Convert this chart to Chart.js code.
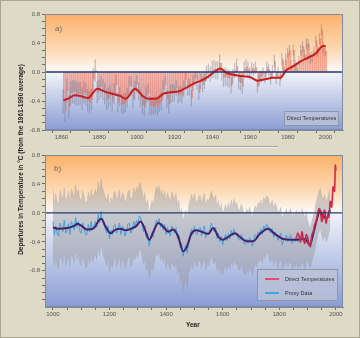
<!DOCTYPE html>
<html>
<head>
<meta charset="utf-8">
<script src="https://cdn.jsdelivr.net/npm/chart.js@4.4.0/dist/chart.umd.min.js"></script>
<style>
  body { margin: 0; background: #dedac6; font-family: "Liberation Sans", Arial, sans-serif; }
  #wrap { position: relative; width: 360px; height: 338px; background: #dedac6; overflow: hidden; }
  .frame { position: absolute; left: 0; top: 0; width: 358px; height: 336px; border: 1px solid #aaa68f; }
  .box { position: absolute; }
  .lbl { position: absolute; color: #666; font-size: 8px; }
  .ytitle { position: absolute; left: -105px; top: 156px; width: 250px; text-align: center; transform: rotate(-90deg);
            font-size: 6.5px; font-weight: bold; color: #222; white-space: nowrap; }
  .legend { position: absolute; background: rgba(190,196,214,0.75); border: 1px solid #9097a8; font-size: 5.5px; color: #333; }
  .sep { position: absolute; left: 80px; top: 146px; width: 198px; height: 1px; background: #a7a59a; border-bottom: 1px solid #f2f0e6; }
</style>
</head>
<body>
<div id="wrap">
  <div class="box" style="left:0;top:0;width:360px;height:145px"><canvas id="chart-a"></canvas></div>
  <div class="box" style="left:0;top:145px;width:360px;height:193px"><canvas id="chart-b"></canvas></div>
  <div class="sep"></div>
  <div class="lbl" style="left:55px;top:24px">a)</div>
  <div class="lbl" style="left:54px;top:164px">b)</div>
  <div class="ytitle">Departures in Temperature in °C (from the 1961-1990 average)</div>
  <div class="legend" style="left:284px;top:111px;width:53px;height:13px;line-height:13px;text-align:center">Direct Temperatures</div>
  <div class="legend" style="left:257px;top:269px;width:79px;height:30px">
    <div style="position:absolute;left:7px;top:8px;width:14px;height:2px;background:#e0506e"></div>
    <div style="position:absolute;left:27px;top:6px">Direct Temperatures</div>
    <div style="position:absolute;left:7px;top:22px;width:14px;height:2px;background:#4aa6dc"></div>
    <div style="position:absolute;left:27px;top:20px">Proxy Data</div>
  </div>
  <div style="position:absolute;left:186px;top:321px;font-size:6.5px;font-weight:bold;color:#222">Year</div>
  <div class="frame"></div>
</div>
<script>
// ─── DATA ────────────────────────────────────────────────────────────────────
// a) annual departures 1861-2000
const annualStart = 1861;
const annualVals = [
  -0.40,-0.53,-0.26,-0.48,-0.29,-0.27,-0.28,-0.30,-0.30,-0.30,
  -0.37,-0.28,-0.31,-0.39,-0.42,-0.38,-0.10, 0.02,-0.28,-0.25,
  -0.20,-0.24,-0.30,-0.38,-0.36,-0.32,-0.40,-0.30,-0.18,-0.42,
  -0.34,-0.44,-0.44,-0.42,-0.36,-0.19,-0.20,-0.37,-0.26,-0.17,
  -0.27,-0.36,-0.45,-0.49,-0.33,-0.29,-0.46,-0.47,-0.47,-0.45,
  -0.48,-0.43,-0.40,-0.24,-0.18,-0.37,-0.44,-0.30,-0.29,-0.29,
  -0.22,-0.32,-0.30,-0.32,-0.23,-0.10,-0.21,-0.21,-0.36,-0.15,
  -0.09,-0.14,-0.28,-0.13,-0.17,-0.13,-0.02, 0.01,-0.03, 0.03,
   0.04, 0.02, 0.02, 0.12, 0.00,-0.08,-0.06,-0.08,-0.09,-0.19,
  -0.06, 0.02, 0.08,-0.13,-0.15,-0.20, 0.04, 0.07, 0.04,-0.02,
   0.05, 0.03, 0.06,-0.20,-0.11,-0.06,-0.02,-0.07, 0.06, 0.03,
  -0.09, 0.01, 0.15,-0.08,-0.01,-0.11, 0.18, 0.07, 0.17, 0.26,
   0.30, 0.09, 0.30, 0.09, 0.06, 0.15, 0.30, 0.35, 0.24, 0.39,
   0.38, 0.19, 0.21, 0.28, 0.43, 0.28, 0.46, 0.58, 0.33, 0.29
];
// error half-width per decade (1860s .. 1990s)
const errDecade = [0.16, 0.15, 0.14, 0.13, 0.12, 0.12, 0.11, 0.10, 0.12, 0.10, 0.08, 0.08, 0.07, 0.07];

const smoothAYears = [1861,1864,1867,1870,1874,1879,1883,1887,1891,1894,1899,1903,1906,1910,1914,1918,1922,1926,1930,1934,
                      1938,1941,1944,1948,1952,1956,1960,1964,1968,1972,1976,1979,1983,1987,1991,1995,1998,2000];
const smoothAVals  = [-0.39,-0.36,-0.32,-0.33,-0.36,-0.23,-0.27,-0.30,-0.33,-0.37,-0.23,-0.33,-0.37,-0.37,-0.30,-0.28,-0.27,-0.22,-0.16,-0.12,
                      -0.06,0.00,0.05,-0.02,-0.04,-0.06,-0.07,-0.12,-0.10,-0.08,-0.08,0.02,0.08,0.15,0.20,0.26,0.35,0.36];

// b) proxy reconstruction, every 5 years 1000-1980
const proxyStart = 1000, proxyStep = 5;
const proxyVals = [
  -0.12,-0.30,-0.18,-0.28,-0.32,-0.14,-0.20,-0.26,-0.10,-0.28,
  -0.24,-0.15,-0.30,-0.12,-0.16,-0.24,-0.06,-0.20,-0.12,-0.25,
  -0.28,-0.14,-0.22,-0.30,-0.30,-0.16,-0.26,-0.12,-0.24,-0.18,
  -0.12,-0.20,-0.02,-0.14, 0.02,-0.10,-0.16,-0.22,-0.28,-0.18,
  -0.36,-0.24,-0.30,-0.18,-0.16,-0.28,-0.22,-0.14,-0.30,-0.18,
  -0.20,-0.32,-0.26,-0.16,-0.14,-0.28,-0.24,-0.12,-0.20,-0.10,
  -0.16,-0.04,-0.06,-0.16,-0.26,-0.18,-0.34,-0.28,-0.46,-0.36,
  -0.28,-0.34,-0.20,-0.10,-0.14,-0.08,-0.20,-0.14,-0.24,-0.16,
  -0.30,-0.20,-0.26,-0.32,-0.18,-0.24,-0.28,-0.20,-0.36,-0.30,
  -0.48,-0.42,-0.60,-0.50,-0.44,-0.56,-0.36,-0.30,-0.22,-0.30,
  -0.18,-0.28,-0.30,-0.22,-0.20,-0.32,-0.24,-0.18,-0.34,-0.26,
  -0.28,-0.22,-0.14,-0.22,-0.26,-0.20,-0.36,-0.28,-0.40,-0.32,
  -0.44,-0.36,-0.30,-0.38,-0.28,-0.36,-0.24,-0.32,-0.22,-0.30,
  -0.28,-0.36,-0.38,-0.30,-0.34,-0.42,-0.44,-0.36,-0.42,-0.34,
  -0.40,-0.46,-0.36,-0.30,-0.34,-0.26,-0.28,-0.22,-0.30,-0.18,
  -0.24,-0.16,-0.18,-0.26,-0.28,-0.22,-0.34,-0.26,-0.30,-0.38,
  -0.34,-0.28,-0.44,-0.38,-0.36,-0.30,-0.40,-0.34,-0.30,-0.42,
  -0.36,-0.40,-0.32,-0.40,-0.34,-0.40,-0.30,-0.36,-0.42,-0.34,
  -0.38,-0.46,-0.48,-0.40,-0.32,-0.24,-0.14,-0.06, 0.02, 0.06,
  -0.04,-0.10,-0.02,-0.12,-0.08, 0.00, 0.06
];
// uncertainty half-width per century (1000s .. 1900s)
const bandHalf = [0.45, 0.45, 0.46, 0.46, 0.48, 0.45, 0.42, 0.40, 0.36, 0.28];

const smoothBYears = [1000,1020,1050,1075,1086,1105,1120,1145,1163,1171,1186,1204,1221,1240,1257,1275,1292,1310,1325,1340,
                      1355,1372,1390,1407,1425,1443,1460,1472,1490,1508,1525,1549,1566,1585,1600,1620,1643,1660,1684,1708,
                      1731,1761,1784,1814,1837,1861,1890,1908,1920,1934,1943,1955,1967,1979];
const smoothBVals  = [-0.20,-0.22,-0.21,-0.18,-0.15,-0.19,-0.23,-0.21,-0.10,-0.08,-0.19,-0.28,-0.23,-0.22,-0.24,-0.22,-0.19,-0.12,-0.23,-0.37,
                      -0.26,-0.14,-0.19,-0.26,-0.23,-0.33,-0.53,-0.48,-0.28,-0.24,-0.26,-0.29,-0.21,-0.33,-0.37,-0.33,-0.28,-0.33,-0.39,-0.39,
                      -0.29,-0.22,-0.29,-0.36,-0.37,-0.37,-0.36,-0.44,-0.28,-0.07,0.03,-0.05,-0.07,0.04];

const directBYears = [1860,1865,1870,1875,1880,1885,1890,1895,1900,1905,1910,1915,1920,1925,1930,1935,1940,1945,1950,1955,
                      1960,1965,1970,1975,1980,1985,1990,1995,1998,2000];
const directBVals  = [-0.35,-0.28,-0.32,-0.40,-0.26,-0.36,-0.42,-0.30,-0.34,-0.44,-0.46,-0.30,-0.26,-0.16,-0.12,-0.02,0.06,0.02,-0.12,-0.02,
                      0.04,-0.14,-0.04,-0.06,0.16,0.08,0.36,0.30,0.66,0.58];

// ─── HELPERS ─────────────────────────────────────────────────────────────────
const FONT = { family: '"Liberation Sans", Arial, sans-serif', size: 6 };

function pairs(xs, ys) { return xs.map((x, i) => ({ x, y: ys[i] })); }

function tickList(from, to, step) {
  const out = [];
  for (let v = from; v <= to + 1e-9; v += step) out.push({ value: Math.round(v * 10) / 10 });
  return out;
}

const bgPlugin = {
  id: 'bg',
  beforeDraw(chart) {
    const { ctx, chartArea: a, scales } = chart;
    const z = (scales.y.getPixelForValue(0) - a.top) / (a.bottom - a.top);
    const g = ctx.createLinearGradient(0, a.top, 0, a.bottom);
    g.addColorStop(0, '#fcb26a');
    g.addColorStop(Math.max(0, z * 0.62), '#fdd9b4');
    g.addColorStop(z * 0.94, '#fcf6ef');
    g.addColorStop(Math.min(1, z + 0.03), '#eceff8');
    g.addColorStop(1, '#8a9dd4');
    ctx.save();
    ctx.fillStyle = g;
    ctx.fillRect(a.left, a.top, a.right - a.left, a.bottom - a.top);
    ctx.restore();
  },
  afterDatasetsDraw(chart) {
    const { ctx, chartArea: a, scales } = chart;
    const y0 = scales.y.getPixelForValue(0);
    ctx.save();
    ctx.strokeStyle = '#26396b';
    ctx.lineWidth = 1.3;
    ctx.beginPath();
    ctx.moveTo(a.left, y0);
    ctx.lineTo(a.right, y0);
    ctx.stroke();
    ctx.strokeStyle = '#7d8aa2';
    ctx.lineWidth = 1;
    ctx.strokeRect(a.left + 0.5, a.top + 0.5, a.right - a.left - 1, a.bottom - a.top - 1);
    ctx.restore();
  }
};

function axes(xr, yr) {
  return {
    x: {
      type: 'linear', min: xr.min, max: xr.max,
      afterFit: s => { s.height = xr.h; },
      afterBuildTicks: s => { s.ticks = tickList(xr.t0, xr.t1, xr.step); },
      ticks: { autoSkip: false, maxRotation: 0, color: '#555', font: FONT, padding: 1,
               callback: v => (v % xr.label === 0 ? String(v) : '') },
      grid: { drawOnChartArea: false, drawTicks: true, tickLength: 3, color: '#6a6a6a' },
      border: { display: true, color: '#7d8aa2' }
    },
    y: {
      min: yr.min, max: yr.max,
      afterFit: s => { s.width = 45; },
      afterBuildTicks: s => { s.ticks = tickList(yr.t0, yr.t1, 0.1); },
      ticks: { autoSkip: false, color: '#555', font: FONT, padding: 2,
               callback: v => (Math.abs(v) <= 0.8 && Math.abs(Math.round(v * 10)) % 4 === 0 ? v.toFixed(1) : '') },
      grid: { drawOnChartArea: false, drawTicks: true, tickLength: 3, color: '#6a6a6a' },
      border: { display: true, color: '#7d8aa2' }
    }
  };
}

// ─── CHART A ────────────────────────────────────────────────────────────────
const annualPts = annualVals.map((v, i) => ({ x: annualStart + i, y: v }));
const errPts = annualVals.map((v, i) => {
  const e = errDecade[Math.min(errDecade.length - 1, Math.floor((annualStart + i - 1860) / 10))];
  return { x: annualStart + i, y: [v - e, v + e] };
});

new Chart(document.getElementById('chart-a'), {
  type: 'bar',
  data: {
    datasets: [
      { type: 'line', data: pairs(smoothAYears, smoothAVals), borderColor: '#c81e1c', borderWidth: 2,
        pointRadius: 0, cubicInterpolationMode: 'monotone', order: 0 },
      { data: errPts, backgroundColor: 'rgba(110,110,130,0.4)', barThickness: 0.6, order: 1 },
      { data: annualPts, backgroundColor: 'rgba(240,115,90,0.62)', barThickness: 1, order: 2 }
    ]
  },
  options: {
    responsive: true, maintainAspectRatio: false, animation: false,
    layout: { padding: { top: 14, right: 17, left: 0, bottom: 0 } },
    plugins: { legend: { display: false }, tooltip: { enabled: false } },
    scales: axes({ min: 1856.5, max: 2004, h: 15, t0: 1860, t1: 2000, step: 10, label: 20 },
                 { min: -0.8, max: 0.8, t0: -0.8, t1: 0.8 })
  },
  plugins: [bgPlugin]
});

// ─── CHART B ────────────────────────────────────────────────────────────────
const proxyPts = proxyVals.map((v, i) => ({ x: proxyStart + i * proxyStep, y: v }));
const halfAt = x => bandHalf[Math.min(bandHalf.length - 1, Math.floor((x - 1000) / 100))];
const bandUp = proxyPts.map(p => ({ x: p.x, y: p.y + halfAt(p.x) }));
const bandLo = proxyPts.map(p => ({ x: p.x, y: p.y - halfAt(p.x) }));

new Chart(document.getElementById('chart-b'), {
  type: 'line',
  data: {
    datasets: [
      { data: pairs(directBYears, directBVals), borderColor: '#d22846', borderWidth: 1.6, pointRadius: 0, tension: 0.2, order: 0 },
      { data: pairs(smoothBYears, smoothBVals), borderColor: '#45206c', borderWidth: 2, pointRadius: 0,
        cubicInterpolationMode: 'monotone', order: 1 },
      { data: proxyPts, borderColor: '#3a9fd8', borderWidth: 0.9, pointRadius: 0, order: 2 },
      { data: bandUp, borderColor: 'rgba(150,150,150,0.3)', borderWidth: 0.6, pointRadius: 0,
        fill: '+1', backgroundColor: 'rgba(150,150,155,0.45)', order: 3 },
      { data: bandLo, borderColor: 'rgba(150,150,150,0.3)', borderWidth: 0.6, pointRadius: 0, order: 4 }
    ]
  },
  options: {
    responsive: true, maintainAspectRatio: false, animation: false,
    layout: { padding: { top: 10, right: 17, left: 0, bottom: 0 } },
    plugins: { legend: { display: false }, tooltip: { enabled: false } },
    scales: axes({ min: 972, max: 2025, h: 31, t0: 1000, t1: 2000, step: 50, label: 200 },
                 { min: -1.3, max: 0.8, t0: -1.2, t1: 0.8 })
  },
  plugins: [bgPlugin]
});
</script>
</body>
</html>
